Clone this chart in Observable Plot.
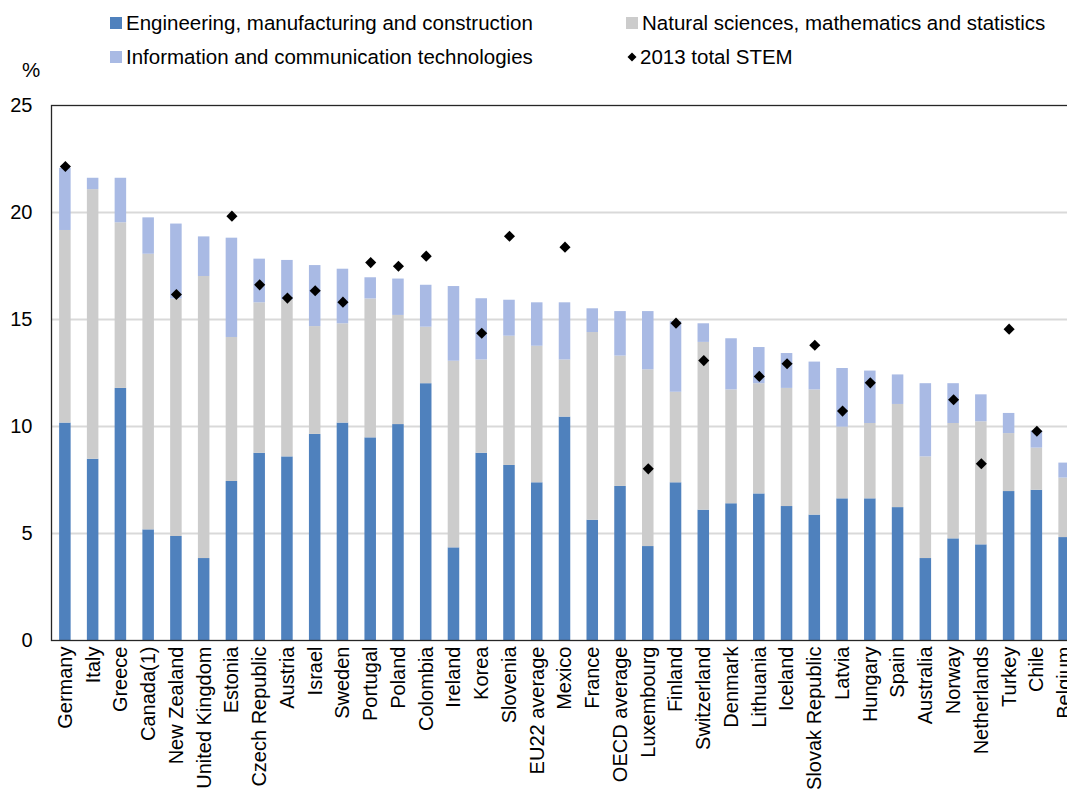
<!DOCTYPE html>
<html>
<head>
<meta charset="utf-8">
<script src="https://cdn.jsdelivr.net/npm/d3@7"></script>
<script src="https://cdn.jsdelivr.net/npm/@observablehq/plot@0.6"></script>
<style>
  html, body { margin: 0; padding: 0; background: #fff; overflow: hidden; }
  body { font-family: "Liberation Sans", Arial, sans-serif; color: #000; width: 1067px; height: 792px; }
  #legend { position: relative; height: 85px; width: 1067px; font-size: 20.5px; }
  .item { position: absolute; display: flex; align-items: center; white-space: nowrap; height: 24px; }
  .sw { width: 12px; height: 12px; margin-right: 4px; }
  #pct { position: absolute; left: 22px; top: 58px; font-size: 20.5px; }
  #chart svg { display: block; max-width: none !important; }
</style>
</head>
<body>
<div id="legend"></div>
<div id="chart"></div>
<script>
const countries = ["Germany","Italy","Greece","Canada(1)","New Zealand","United Kingdom","Estonia","Czech Republic","Austria","Israel","Sweden","Portugal","Poland","Colombia","Ireland","Korea","Slovenia","EU22 average","Mexico","France","OECD average","Luxembourg","Finland","Switzerland","Denmark","Lithuania","Iceland","Slovak Republic","Latvia","Hungary","Spain","Australia","Norway","Netherlands","Turkey","Chile","Belgium"];
const eng  = [10.16,8.47,11.78,5.17,4.86,3.83,7.43,8.75,8.58,9.63,10.16,9.47,10.09,12.0,4.33,8.75,8.18,7.37,10.44,5.62,7.2,4.39,7.37,6.09,6.39,6.85,6.26,5.86,6.62,6.62,6.21,3.83,4.75,4.47,6.96,7.02,4.81];
const nat  = [9.0,12.6,7.74,12.88,11.1,13.18,6.73,7.03,7.32,5.04,4.64,6.49,5.1,2.64,8.72,4.36,6.04,6.38,2.67,8.77,6.09,8.26,4.23,7.84,5.32,5.15,5.52,5.85,3.35,3.52,4.82,4.75,5.39,5.75,2.71,1.97,2.78];
const ict  = [2.9,0.53,2.08,1.7,3.5,1.85,4.64,2.04,1.86,2.85,2.55,0.99,1.7,1.96,3.49,2.86,1.68,2.03,2.67,1.11,2.08,2.72,3.3,0.87,2.39,1.69,1.63,1.3,2.74,2.45,1.38,3.42,1.86,1.26,0.94,0.8,0.7];
const stem2013 = [22.15,null,null,null,16.17,null,19.83,16.62,16.0,16.34,15.81,17.66,17.49,17.96,null,14.36,18.89,null,18.38,null,null,8.02,14.83,13.08,null,12.34,12.93,13.8,10.72,12.04,null,null,11.25,8.26,14.55,9.78,null];
const fields = ["Engineering, manufacturing and construction","Natural sciences, mathematics and statistics","Information and communication technologies"];
const colors = ["#4f81bd","#cccccc","#a9bae4"];
const diamondLabel = "2013 total STEM";

const rows = [];
countries.forEach((c, i) => {
  rows.push({country: c, field: fields[0], value: eng[i]});
  rows.push({country: c, field: fields[1], value: nat[i]});
  rows.push({country: c, field: fields[2], value: ict[i]});
});
const pts = countries.map((c, i) => ({country: c, value: stem2013[i]})).filter(d => d.value != null);

// legend
const legend = document.getElementById("legend");
const items = [
  {label: fields[0], color: colors[0], left: 110, top: 11},
  {label: fields[1], color: colors[1], left: 626, top: 11},
  {label: fields[2], color: colors[2], left: 110, top: 45},
  {label: diamondLabel, diamond: true, left: 626, top: 45}
];
items.forEach(it => {
  const d = document.createElement("div");
  d.className = "item";
  d.style.left = it.left + "px";
  d.style.top = it.top + "px";
  if (it.diamond) {
    d.innerHTML = '<svg width="12" height="12" style="margin-right:2px"><path d="M6,1.5L10.5,6L6,10.5L1.5,6Z" fill="#000"/></svg>';
  } else {
    d.innerHTML = '<span class="sw" style="background:' + it.color + '"></span>';
  }
  const s = document.createElement("span");
  s.textContent = it.label;
  d.appendChild(s);
  legend.appendChild(d);
});
const pct = document.createElement("div");
pct.id = "pct";
pct.textContent = "%";
legend.appendChild(pct);

const chart = Plot.plot({
  width: 1080,
  height: 705,
  marginLeft: 51,
  marginRight: 2,
  marginTop: 20,
  marginBottom: 150,
  style: {fontFamily: "'Liberation Sans', Arial, sans-serif", fontSize: "20px", color: "#000", background: "white", maxWidth: "none"},
  x: {domain: countries, paddingInner: 0.585, paddingOuter: 0.2925, round: false, axis: null},
  y: {domain: [0, 25], axis: null},
  color: {domain: fields, range: colors},
  marks: [
    Plot.ruleY([5, 10, 15, 20], {stroke: "#d9d9d9", strokeWidth: 2}),
    Plot.barY(rows, {x: "country", y: "value", fill: "field"}),
    Plot.dot(pts, {x: "country", y: "value", symbol: "diamond2", r: 5, fill: "#000", stroke: "none"}),
    Plot.frame({stroke: "#262626", strokeWidth: 1.3}),
    Plot.axisY({ticks: [0, 5, 10, 15, 20, 25], tickSize: 0, tickPadding: 19, label: null, fontSize: 20}),
    Plot.axisX({tickRotate: -90, tickSize: 0, tickPadding: 6, label: null, fontSize: 20})
  ]
});
document.getElementById("chart").appendChild(chart);
</script>
</body>
</html>
